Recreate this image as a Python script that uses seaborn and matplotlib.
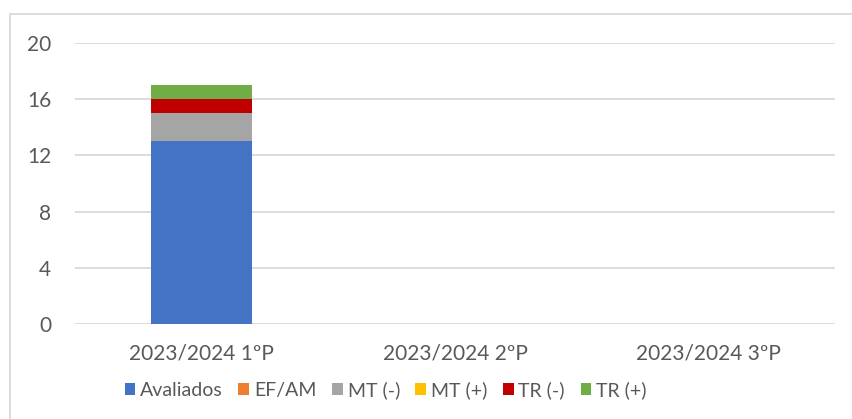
import matplotlib
matplotlib.use("Agg")
import matplotlib.pyplot as plt
from matplotlib.lines import Line2D
from matplotlib.patches import Patch
import seaborn as sns
import numpy as np
import pandas as pd

periods = ["2023/2024 1ºP", "2023/2024 2ºP", "2023/2024 3ºP"]
series = ["Avaliados", "EF/AM", "MT (-)", "MT (+)", "TR (-)", "TR (+)"]
avaliados = [13, 0, 0]
ef_am = [0, 0, 0]
mt_minus = [2, 0, 0]
mt_plus = [0, 0, 0]
tr_minus = [1, 0, 0]
tr_plus = [1, 0, 0]
colors = ["#4472C4", "#ED7D31", "#A5A5A5", "#FFC000", "#C00000", "#70AD47"]
yticks = [0, 4, 8, 12, 16, 20]

sns.set_style("white")
plt.rcParams["font.family"] = ["Lato", "DejaVu Sans"]
text_color = "#595959"
grid_color = "#D9D9D9"

df = pd.DataFrame({"period": periods, "Avaliados": avaliados, "EF/AM": ef_am,
                   "MT (-)": mt_minus, "MT (+)": mt_plus,
                   "TR (-)": tr_minus, "TR (+)": tr_plus})

fig = plt.figure(figsize=(8.52, 4.19), dpi=100)
ax = fig.add_axes([75 / 852, 1 - 324 / 419, 760 / 852, 281 / 419])

bottom = np.zeros(len(periods))
for name, col in zip(series, colors):
    sns.barplot(data=df, x="period", y=name, color=col, bottom=bottom,
                width=0.4, saturation=1, linewidth=0, ax=ax, zorder=3)
    bottom = bottom + df[name].to_numpy()

ax.set_ylim(0, 20)
ax.set_yticks(yticks)
ax.set_xlim(-0.5, 2.5)
ax.yaxis.grid(True, color=grid_color, linewidth=1.3, zorder=0)
ax.set_axisbelow(True)
for s in ax.spines.values():
    s.set_visible(False)
ax.set_xlabel("")
ax.set_ylabel("")
ax.tick_params(axis="both", length=0, labelsize=15, colors=text_color)
ax.tick_params(axis="y", pad=17)
ax.tick_params(axis="x", pad=14)

handles = [Patch(facecolor=c, edgecolor="none") for c in colors]
fig.legend(handles, series, loc="center left", bbox_to_anchor=(111 / 852, 1 - 390 / 419),
           ncol=6, frameon=False, fontsize=14, labelcolor=text_color,
           handlelength=0.55, handleheight=0.6, handletextpad=0.25,
           columnspacing=0.8, borderpad=0.2)

# light border of the chart area
fig.add_artist(Line2D([10 / 852, 10 / 852], [0, 1 - 14 / 419], color=grid_color,
                      linewidth=1.3, transform=fig.transFigure))
fig.add_artist(Line2D([10 / 852, 1], [1 - 14 / 419, 1 - 14 / 419], color=grid_color,
                      linewidth=1.3, transform=fig.transFigure))

fig.savefig("out.png", dpi=100)
